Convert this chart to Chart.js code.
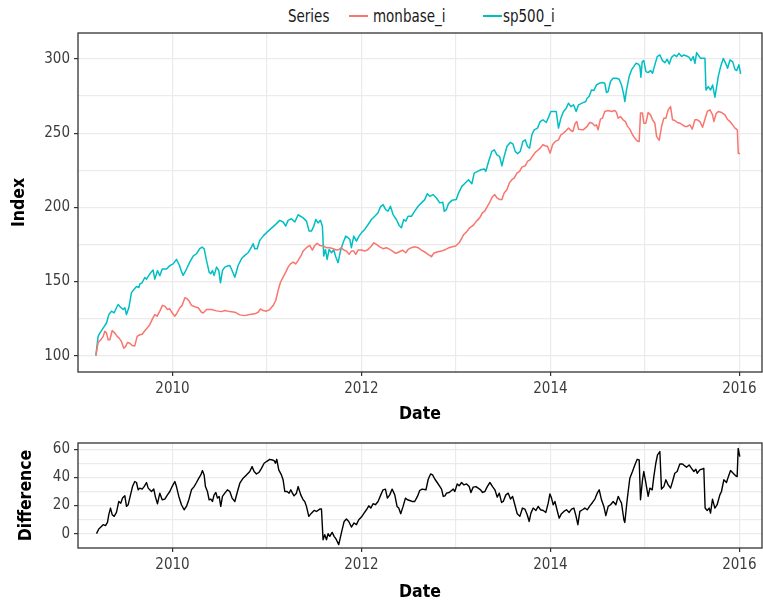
<!DOCTYPE html>
<html>
<head>
<meta charset="utf-8">
<title>monbase_i vs sp500_i</title>
<script src="https://cdn.jsdelivr.net/npm/chart.js@4.4.1/dist/chart.umd.min.js"></script>
<style>
  html, body { margin: 0; padding: 0; background: #fff; }
  #page { position: relative; width: 763px; height: 605px; overflow: hidden; }
  #page canvas { position: absolute; left: 0; }
  #legend { position: absolute; top: 0; left: 0; width: 763px; height: 32px;
            font-family: 'Liberation Sans Narrow', 'DejaVu Sans Condensed', sans-serif;
            font-size: 17px; color: #1a1a1a; }
  #legend span { position: absolute; top: 5px; line-height: 22px; white-space: nowrap;
                 transform: scaleX(0.88); transform-origin: left center; }
  #legend .key { top: 15px; height: 2px; width: 19px; transform: none; }
</style>
</head>
<body>
<div id="page">
  <div id="legend"></div>
  <canvas id="indexChart" width="763" height="430" style="top:0"></canvas>
  <canvas id="diffChart" width="763" height="185" style="top:420px"></canvas>
</div>
<script>
// weekly index levels (decimal year, value)
const sp500Dates = [
  2009.189, 2009.213, 2009.231, 2009.266, 2009.302, 2009.326, 2009.354, 2009.383, 2009.407, 2009.425,
  2009.450, 2009.478, 2009.496, 2009.513, 2009.538, 2009.566, 2009.594, 2009.619, 2009.644, 2009.654,
  2009.679, 2009.707, 2009.725, 2009.743, 2009.771, 2009.795, 2009.813, 2009.841, 2009.866, 2009.891,
  2009.937, 2009.972, 2010.007, 2010.042, 2010.071, 2010.095, 2010.113, 2010.141, 2010.183, 2010.219,
  2010.254, 2010.289, 2010.314, 2010.335, 2010.360, 2010.388, 2010.406, 2010.423, 2010.441, 2010.466,
  2010.490, 2010.508, 2010.529, 2010.554, 2010.578, 2010.607, 2010.631, 2010.660, 2010.695, 2010.730,
  2010.765, 2010.801, 2010.836, 2010.854, 2010.871, 2010.896, 2010.924, 2010.966, 2011.002, 2011.048,
  2011.101, 2011.136, 2011.171, 2011.199, 2011.224, 2011.259, 2011.295, 2011.330, 2011.383, 2011.418,
  2011.446, 2011.471, 2011.496, 2011.517, 2011.541, 2011.566, 2011.587, 2011.601, 2011.619, 2011.637,
  2011.658, 2011.683, 2011.707, 2011.728, 2011.753, 2011.778, 2011.806, 2011.834, 2011.859, 2011.877,
  2011.894, 2011.919, 2011.947, 2011.975, 2012.000, 2012.035, 2012.071, 2012.106, 2012.141, 2012.176,
  2012.201, 2012.229, 2012.257, 2012.282, 2012.307, 2012.335, 2012.370, 2012.399, 2012.423, 2012.448,
  2012.469, 2012.494, 2012.529, 2012.564, 2012.600, 2012.635, 2012.670, 2012.698, 2012.723, 2012.758,
  2012.794, 2012.829, 2012.862, 2012.877, 2012.898, 2012.922, 2012.958, 2013.004, 2013.028, 2013.063,
  2013.099, 2013.134, 2013.169, 2013.194, 2013.229, 2013.265, 2013.300, 2013.317, 2013.346, 2013.381,
  2013.406, 2013.434, 2013.462, 2013.487, 2013.511, 2013.540, 2013.575, 2013.603, 2013.628, 2013.653,
  2013.681, 2013.709, 2013.734, 2013.758, 2013.780, 2013.804, 2013.829, 2013.864, 2013.892, 2013.921,
  2013.956, 2013.981, 2014.005, 2014.034, 2014.062, 2014.086, 2014.111, 2014.139, 2014.168, 2014.192,
  2014.217, 2014.245, 2014.273, 2014.298, 2014.346, 2014.375, 2014.389, 2014.410, 2014.435, 2014.459,
  2014.488, 2014.516, 2014.551, 2014.576, 2014.594, 2014.611, 2014.636, 2014.664, 2014.700, 2014.728,
  2014.753, 2014.777, 2014.788, 2014.806, 2014.834, 2014.859, 2014.883, 2014.905, 2014.929, 2014.947,
  2014.958, 2014.972, 2014.989, 2015.011, 2015.035, 2015.060, 2015.081, 2015.106, 2015.131, 2015.159,
  2015.187, 2015.212, 2015.237, 2015.258, 2015.283, 2015.311, 2015.336, 2015.360, 2015.389, 2015.413,
  2015.442, 2015.470, 2015.488, 2015.512, 2015.530, 2015.548, 2015.565, 2015.590, 2015.611, 2015.636,
  2015.647, 2015.671, 2015.696, 2015.717, 2015.742, 2015.760, 2015.777, 2015.802, 2015.830, 2015.855,
  2015.876, 2015.901, 2015.929, 2015.954, 2015.972, 2015.996, 2016.014
];
const sp500Values = [
  100, 113, 115.2, 118.6, 122, 127.7, 130, 128.9, 132.3, 134.5,
  132.7, 131.1, 132.3, 127.7, 132.3, 142.5, 144.8, 146.6, 145.9, 148.2,
  149.3, 152.7, 151.6, 153.4, 156.1, 157.7, 151.6, 157.3, 153.9, 158.4,
  158.4, 160.7, 161.9, 164.9, 161.3, 156.8, 154.1, 157.4, 163.1, 167.1,
  168.7, 172.1, 173.2, 172.1, 164.2, 156.3, 155.2, 157.4, 154.1, 159.7,
  157.4, 149.1, 157.4, 159.7, 160.4, 160.8, 157.4, 152.9, 160.8, 165.3,
  167.6, 169.4, 173.2, 175.5, 172.1, 172.1, 177.7, 181.1, 183.3, 186,
  189, 191.2, 190.1, 187.4, 191.2, 192.3, 190.1, 195, 192.9, 190.7,
  184, 184, 187.3, 191.8, 189.5, 191.3, 187.3, 167.2, 171.6, 164.9,
  171.6, 169.4, 171.2, 166.7, 162.7, 170.5, 176.1, 180.6, 179.5, 178.4,
  172.8, 180.6, 177.2, 180.6, 182.8, 185.1, 188.4, 191.8, 194, 196.3,
  200.3, 201.8, 198.5, 197.4, 200.7, 195.1, 191.8, 187.8, 186.2, 191.8,
  190.7, 194, 194, 197.4, 200.7, 203, 205.2, 209.2, 207.4, 208.6,
  206.3, 203, 203.4, 197.3, 198.4, 202.5, 204.7, 205.2, 209.6, 214.1,
  216.4, 218.6, 215.9, 223.1, 224.2, 225.3, 225.8, 224.2, 230.9, 237.7,
  238.8, 235.4, 234.3, 228, 234.3, 241, 243.7, 242.8, 237.7, 236.1,
  237.7, 244.4, 245.5, 241, 239.9, 248.9, 252.2, 253.4, 257.8, 259,
  257.2, 260.8, 264.6, 264.6, 264.6, 253.4, 260.1, 264.6, 266.8, 270.2,
  267.9, 269.1, 264.6, 269.1, 270.6, 271.3, 273.5, 274.7, 279.1, 278.7,
  282.5, 283.6, 284.1, 283.6, 277.4, 278, 284.8, 287, 287, 286.3,
  282.5, 275.8, 271.3, 279.1, 288.1, 292.6, 294.8, 297.1, 296.6, 295.3,
  287.7, 298.2, 298.9, 291.5, 290.8, 292.2, 290.4, 296, 301.6, 302.7,
  298.9, 297.5, 299.8, 296.6, 301.1, 302.7, 301.6, 303.8, 301.6, 302.7,
  302, 301.1, 298.9, 301.6, 297.1, 304.3, 302.7, 300.4, 300.4, 300.4,
  279.1, 281.4, 279.1, 282.5, 274.2, 281.4, 288.1, 294.8, 300.4, 297.1,
  293.7, 299.3, 298.2, 293, 292.2, 296, 289.9
];

const monbaseDates = [
  2009.189, 2009.213, 2009.242, 2009.266, 2009.284, 2009.302, 2009.319, 2009.337, 2009.362, 2009.390,
  2009.414, 2009.436, 2009.460, 2009.485, 2009.503, 2009.524, 2009.549, 2009.573, 2009.601, 2009.626,
  2009.654, 2009.679, 2009.707, 2009.732, 2009.760, 2009.788, 2009.813, 2009.838, 2009.866, 2009.894,
  2009.919, 2009.947, 2009.972, 2009.996, 2010.025, 2010.049, 2010.078, 2010.102, 2010.131, 2010.155,
  2010.176, 2010.201, 2010.236, 2010.272, 2010.307, 2010.325, 2010.360, 2010.413, 2010.466, 2010.519,
  2010.554, 2010.607, 2010.660, 2010.713, 2010.765, 2010.818, 2010.871, 2010.907, 2010.931, 2010.959,
  2010.995, 2011.030, 2011.065, 2011.093, 2011.118, 2011.143, 2011.171, 2011.199, 2011.224, 2011.249,
  2011.277, 2011.305, 2011.330, 2011.365, 2011.383, 2011.418, 2011.453, 2011.481, 2011.506, 2011.531,
  2011.559, 2011.594, 2011.630, 2011.665, 2011.700, 2011.735, 2011.764, 2011.788, 2011.813, 2011.841,
  2011.869, 2011.894, 2011.919, 2011.940, 2011.965, 2012.000, 2012.035, 2012.071, 2012.106, 2012.131,
  2012.159, 2012.194, 2012.229, 2012.265, 2012.300, 2012.328, 2012.363, 2012.399, 2012.434, 2012.469,
  2012.494, 2012.529, 2012.564, 2012.600, 2012.635, 2012.670, 2012.705, 2012.741, 2012.765, 2012.801,
  2012.847, 2012.892, 2012.928, 2012.963, 2012.998, 2013.034, 2013.058, 2013.083, 2013.111, 2013.146,
  2013.182, 2013.217, 2013.252, 2013.280, 2013.305, 2013.330, 2013.358, 2013.386, 2013.411, 2013.436,
  2013.464, 2013.487, 2013.511, 2013.540, 2013.568, 2013.593, 2013.617, 2013.646, 2013.674, 2013.698,
  2013.734, 2013.758, 2013.787, 2013.815, 2013.840, 2013.864, 2013.892, 2013.921, 2013.945, 2013.970,
  2013.998, 2014.023, 2014.051, 2014.086, 2014.111, 2014.139, 2014.168, 2014.192, 2014.217, 2014.238,
  2014.263, 2014.280, 2014.298, 2014.346, 2014.382, 2014.417, 2014.445, 2014.470, 2014.488, 2014.505,
  2014.530, 2014.551, 2014.576, 2014.611, 2014.647, 2014.682, 2014.700, 2014.717, 2014.742, 2014.770,
  2014.795, 2014.813, 2014.841, 2014.869, 2014.894, 2014.912, 2014.929, 2014.940, 2014.954, 2014.975,
  2014.989, 2015.011, 2015.035, 2015.060, 2015.081, 2015.106, 2015.124, 2015.152, 2015.177, 2015.201,
  2015.223, 2015.247, 2015.272, 2015.293, 2015.318, 2015.343, 2015.371, 2015.399, 2015.424, 2015.449,
  2015.477, 2015.502, 2015.530, 2015.555, 2015.583, 2015.611, 2015.636, 2015.661, 2015.689, 2015.717,
  2015.731, 2015.753, 2015.777, 2015.813, 2015.848, 2015.873, 2015.901, 2015.929, 2015.954, 2015.979,
  2015.989, 2016.007
];
const monbaseValues = [
  100, 108.9, 110.7, 113, 116.4, 115.2, 110.7, 110.7, 117, 115.2,
  113, 111.8, 109.5, 105, 106.1, 108.9, 108.4, 106.8, 106.6, 113,
  114.1, 114.5, 116.8, 118.6, 120.9, 124.8, 127.7, 126.6, 130, 133.9,
  133.4, 131.1, 131.6, 128.9, 126.6, 128.9, 132.3, 133.9, 139.1, 138.4,
  136.8, 133.9, 133, 132.3, 129.3, 128.8, 131.1, 131.1, 130.2, 129.7,
  130.4, 129.7, 129.3, 127.5, 127, 127.7, 128.2, 129.3, 131.5, 130.4,
  130, 131.1, 133.8, 137.2, 143.9, 149.5, 152.9, 156.3, 159.7, 161.9,
  163.1, 161.9, 164.2, 168, 170.5, 172.8, 174.3, 171.2, 174.3, 175.7,
  174.3, 173.9, 172.8, 172.8, 172.1, 171.2, 171.6, 172.8, 171.2, 170.5,
  168.3, 170.5, 170.5, 168.3, 171.2, 171.2, 170.5, 171.6, 173.9, 176.1,
  175, 173.4, 172.1, 172.8, 171.6, 170.5, 169, 169.9, 171.2, 169.4,
  171.6, 172.8, 173.4, 172.8, 171.2, 169.9, 168.3, 166.7, 169, 169.9,
  170.5, 171.6, 172.8, 173.4, 173.9, 176.1, 178.8, 181.7, 183.3, 186.2,
  187.8, 190.7, 192.9, 196.3, 197.4, 200.3, 203.4, 207, 208.6, 206.3,
  205.2, 205.2, 209.6, 211.9, 216.8, 218.6, 219.7, 223.1, 224.2, 227.1,
  228, 230.9, 232.1, 234.8, 237, 238.3, 239.9, 242.2, 241.5, 241,
  236.5, 242.2, 244.4, 245.5, 248.9, 250, 251.8, 253.4, 251.8, 251.1,
  256.7, 257.8, 252.7, 252.2, 254, 257.2, 256.7, 254.9, 255.6, 252.2,
  259.4, 260.1, 264.6, 265.2, 264.6, 265.2, 263.9, 260.1, 261.2, 259,
  257.8, 254.9, 252.7, 248.9, 246.6, 245.1, 244.4, 244.4, 263.5, 263.5,
  256.7, 256.7, 263.9, 262.3, 259, 256.7, 247.8, 245.1, 254.5, 260.1,
  260.1, 265.7, 267.9, 259, 258.5, 257.2, 256.7, 255.6, 254.5, 254.5,
  255.6, 252.7, 259, 259, 257.8, 254, 259.4, 264.6, 265.7, 262.3,
  257.8, 263, 264.6, 263.9, 262.3, 259.4, 257.8, 255.6, 253.4, 252.2,
  236.5, 236.1
];

// sp500_i minus monbase_i
const diffDates = [
  2009.196, 2009.220, 2009.242, 2009.266, 2009.291, 2009.312, 2009.326, 2009.344, 2009.362, 2009.383,
  2009.407, 2009.432, 2009.453, 2009.471, 2009.496, 2009.513, 2009.531, 2009.556, 2009.577, 2009.601,
  2009.619, 2009.637, 2009.654, 2009.679, 2009.700, 2009.725, 2009.743, 2009.760, 2009.778, 2009.802,
  2009.820, 2009.841, 2009.866, 2009.891, 2009.919, 2009.947, 2009.972, 2009.996, 2010.025, 2010.042,
  2010.067, 2010.095, 2010.123, 2010.148, 2010.173, 2010.201, 2010.229, 2010.254, 2010.279, 2010.300,
  2010.317, 2010.335, 2010.349, 2010.370, 2010.388, 2010.406, 2010.423, 2010.441, 2010.459, 2010.476,
  2010.494, 2010.511, 2010.529, 2010.554, 2010.582, 2010.607, 2010.631, 2010.660, 2010.688, 2010.713,
  2010.748, 2010.783, 2010.818, 2010.843, 2010.864, 2010.889, 2010.914, 2010.942, 2010.970, 2010.995,
  2011.030, 2011.058, 2011.076, 2011.090, 2011.104, 2011.125, 2011.153, 2011.171, 2011.189, 2011.213,
  2011.235, 2011.252, 2011.270, 2011.287, 2011.312, 2011.330, 2011.358, 2011.383, 2011.400, 2011.418,
  2011.443, 2011.471, 2011.499, 2011.524, 2011.559, 2011.577, 2011.594, 2011.612, 2011.630, 2011.647,
  2011.665, 2011.690, 2011.711, 2011.735, 2011.760, 2011.788, 2011.817, 2011.841, 2011.866, 2011.894,
  2011.922, 2011.947, 2011.972, 2012.000, 2012.028, 2012.053, 2012.078, 2012.099, 2012.123, 2012.148,
  2012.176, 2012.205, 2012.229, 2012.254, 2012.275, 2012.300, 2012.325, 2012.353, 2012.377, 2012.395,
  2012.416, 2012.441, 2012.466, 2012.487, 2012.511, 2012.536, 2012.564, 2012.593, 2012.617, 2012.642,
  2012.683, 2012.707, 2012.732, 2012.753, 2012.778, 2012.802, 2012.831, 2012.848, 2012.866, 2012.884,
  2012.901, 2012.929, 2012.954, 2012.972, 2012.989, 2013.014, 2013.035, 2013.060, 2013.085, 2013.113,
  2013.141, 2013.159, 2013.183, 2013.212, 2013.236, 2013.261, 2013.282, 2013.307, 2013.332, 2013.360,
  2013.388, 2013.413, 2013.437, 2013.459, 2013.483, 2013.501, 2013.529, 2013.554, 2013.578, 2013.600,
  2013.624, 2013.649, 2013.677, 2013.705, 2013.730, 2013.755, 2013.776, 2013.794, 2013.818, 2013.847,
  2013.871, 2013.896, 2013.924, 2013.952, 2013.977, 2013.995, 2014.012, 2014.030, 2014.048, 2014.072,
  2014.093, 2014.118, 2014.143, 2014.171, 2014.199, 2014.224, 2014.249, 2014.270, 2014.291, 2014.312,
  2014.340, 2014.365, 2014.390, 2014.418, 2014.446, 2014.471, 2014.496, 2014.517, 2014.541, 2014.566,
  2014.587, 2014.612, 2014.637, 2014.665, 2014.693, 2014.718, 2014.735, 2014.753, 2014.778, 2014.788,
  2014.813, 2014.841, 2014.869, 2014.894, 2014.919, 2014.940, 2014.954, 2014.975, 2014.989, 2015.011,
  2015.035, 2015.053, 2015.078, 2015.095, 2015.116, 2015.134, 2015.159, 2015.176, 2015.201, 2015.222,
  2015.247, 2015.272, 2015.293, 2015.317, 2015.342, 2015.370, 2015.399, 2015.423, 2015.441, 2015.469,
  2015.494, 2015.519, 2015.540, 2015.554, 2015.582, 2015.600, 2015.624, 2015.638, 2015.660, 2015.681,
  2015.695, 2015.716, 2015.741, 2015.765, 2015.794, 2015.811, 2015.836, 2015.864, 2015.882, 2015.907,
  2015.935, 2015.963, 2015.977, 2015.988, 2016.005
];
const diffValues = [
  0, 3.3, 4.7, 6.4, 5.7, 8, 13.5, 18.2, 13.5, 12.3,
  15.1, 22.9, 21.7, 25.3, 26.9, 19.4, 20.6, 27.6, 33.5, 37.1,
  36.4, 31.2, 32.4, 31.7, 33.5, 36.4, 32.4, 31.2, 30, 31.7,
  26, 21.3, 28.8, 24.1, 24.6, 27.6, 30, 33.5, 37.1, 33.5,
  26.5, 20.6, 17, 19.4, 24.1, 31.2, 33.5, 36.4, 39.5, 41.8,
  44.9, 41.8, 33.5, 30, 24.1, 24.6, 22.9, 27.6, 29.3, 25.3,
  26.5, 19.4, 26.5, 28.8, 31.2, 30, 25.3, 22.9, 30, 35.9,
  39.5, 41.8, 44.2, 47.7, 44.2, 42.5, 43.5, 46.5, 50.1, 51.3,
  52.9, 52.4, 52, 50.1, 52.9, 45.4, 41.8, 38.3, 30, 30,
  28.8, 31.2, 28.8, 26.9, 28.8, 33.5, 27.6, 24.1, 22.9, 19.4,
  12.3, 14.6, 16.5, 15.8, 17.5, 17.5, -4.3, -0.7, -4.3, 0,
  -1.9, 0.9, -1.9, -4.3, -7.8, 0.5, 8.7, 10.4, 8.7, 4.7,
  7.6, 6.4, 9.9, 11.8, 14.6, 17, 19.8, 18.2, 21.3, 20.6,
  22.9, 27.6, 31.2, 31.7, 25.3, 27.6, 31.7, 27.6, 19.4, 18.2,
  14.2, 19.4, 25.3, 24.1, 23.6, 22.9, 22.9, 26.5, 30.7, 31.7,
  31.2, 38.7, 42.5, 41.8, 38.7, 36.4, 33.5, 31.7, 26.5, 26.9,
  28.8, 29.3, 30.7, 31.7, 30, 35.4, 34, 36.4, 34.7, 35.4,
  33.5, 29.3, 33.1, 33.5, 32.4, 31.2, 29.3, 30, 33.5, 36.4,
  33.5, 31.2, 26, 28.8, 22.2, 22.9, 27.6, 28.8, 24.6, 26.5,
  20.6, 14.2, 12.3, 18.2, 17.5, 13.5, 8.7, 14.6, 18.2, 16.5,
  19.4, 17, 16.5, 15.1, 21.7, 28.3, 25.3, 20.6, 22.9, 16.5,
  11.1, 14.2, 15.8, 17, 15.1, 17.5, 18.2, 12.8, 6.4, 15.8,
  17, 18.2, 17, 19.8, 22.2, 24.6, 28.8, 31.2, 24.1, 19.4,
  12.8, 19.4, 20.6, 22.9, 20.6, 26.5, 24.1, 21.7, 9.9, 8,
  24.1, 39.5, 44.2, 48.9, 52.9, 52.4, 24.1, 38.3, 44.2, 35.9,
  26.5, 32.4, 31.2, 40.6, 50.1, 56, 58.4, 31.7, 33.5, 38.3,
  34.7, 32.4, 37.1, 43, 44.2, 49.6, 49.6, 48.2, 47.2, 48.9,
  46.5, 44.2, 45.8, 43, 45.4, 45.8, 46.5, 18.2, 16.5, 18.2,
  14.6, 24.6, 18.2, 20.6, 27.6, 30, 38.3, 36.4, 40.2, 44.9,
  43, 41.1, 40.6, 60.7, 54.8
];

const seriesNames = ['monbase_i', 'sp500_i'];
const seriesColors = ['#F8766D', '#00BFC4'];

const yearGrid = [2010, 2011, 2012, 2013, 2014, 2015, 2016];
const yearLabels = [2010, 2012, 2014, 2016];
const indexGrid = [100, 125, 150, 175, 200, 225, 250, 275, 300];
const indexLabels = [100, 150, 200, 250, 300];
const diffGrid = [0, 10, 20, 30, 40, 50, 60];
const diffLabels = [0, 20, 40, 60];

const FONT = "'Liberation Sans Narrow', 'DejaVu Sans Condensed', sans-serif";
const GRID = '#EBEBEB';
const INK = '#333333';
const TICK_TEXT = '#3C3C3C';

const toPoints = (xs, ys) => xs.map((x, i) => ({ x, y: ys[i] }));

// ggplot-like panel border around the plotting area
const panelBorder = {
  id: 'panelBorder',
  afterDatasetsDraw(chart) {
    const { ctx, chartArea: a } = chart;
    ctx.save();
    ctx.strokeStyle = INK;
    ctx.lineWidth = 1.3;
    ctx.strokeRect(a.left, a.top, a.right - a.left, a.bottom - a.top);
    ctx.restore();
  }
};

function dateAxis(height, titlePad) {
  return {
    type: 'linear',
    min: 2009.0,
    max: 2016.24,
    afterBuildTicks: s => { s.ticks = yearGrid.map(v => ({ value: v })); },
    afterFit: s => { s.height = height; },
    ticks: {
      autoSkip: false, maxRotation: 0, padding: 4,
      color: TICK_TEXT, font: { family: FONT, size: 15 },
      callback: v => yearLabels.includes(v) ? String(v) : ''
    },
    grid: {
      color: GRID, lineWidth: 1.2, tickLength: 4, tickWidth: 1.2,
      tickColor: c => c.tick && yearLabels.includes(c.tick.value) ? INK : 'rgba(0,0,0,0)'
    },
    border: { display: false },
    title: {
      display: true, text: 'Date', color: '#000',
      font: { family: FONT, size: 17.5, weight: 'bold' },
      padding: { top: 0, bottom: titlePad }
    }
  };
}

function valueAxis(min, max, grid, labels, title, titlePad) {
  return {
    type: 'linear',
    min, max,
    afterBuildTicks: s => { s.ticks = grid.map(v => ({ value: v })); },
    afterFit: s => { s.width = 78; },
    ticks: {
      autoSkip: false, padding: 4,
      color: TICK_TEXT, font: { family: FONT, size: 15 },
      callback: v => labels.includes(v) ? String(v) : ''
    },
    grid: {
      color: GRID, lineWidth: 1.2, tickLength: 4, tickWidth: 1.2,
      tickColor: c => c.tick && labels.includes(c.tick.value) ? INK : 'rgba(0,0,0,0)'
    },
    border: { display: false },
    title: {
      display: true, text: title, color: '#000',
      font: { family: FONT, size: 17.5, weight: 'bold' },
      padding: { top: titlePad, bottom: 0 }
    }
  };
}

const baseOptions = {
  responsive: false,
  animation: false,
  devicePixelRatio: 1,
  events: [],
  plugins: { legend: { display: false }, tooltip: { enabled: false } },
  elements: { point: { radius: 0 }, line: { tension: 0, borderJoinStyle: 'round' } }
};

function renderLegend() {
  const el = document.getElementById('legend');
  const parts = [
    { left: 288, text: 'Series' },
    { left: 349, color: seriesColors[0] },
    { left: 373, text: seriesNames[0] },
    { left: 483, color: seriesColors[1] },
    { left: 503, text: seriesNames[1] }
  ];
  el.innerHTML = parts.map(p => p.text
    ? `<span style="left:${p.left}px">${p.text}</span>`
    : `<span class="key" style="left:${p.left}px;background:${p.color}"></span>`
  ).join('');
}

function renderIndexChart() {
  new Chart(document.getElementById('indexChart'), {
    type: 'line',
    data: {
      datasets: [
        { label: seriesNames[0], data: toPoints(monbaseDates, monbaseValues), borderColor: seriesColors[0], borderWidth: 1.5 },
        { label: seriesNames[1], data: toPoints(sp500Dates, sp500Values), borderColor: seriesColors[1], borderWidth: 1.5 }
      ]
    },
    options: {
      ...baseOptions,
      layout: { padding: { top: 33, right: 1, left: 0, bottom: 0 } },
      scales: {
        x: dateAxis(58, 5),
        y: valueAxis(89, 317.5, indexGrid, indexLabels, 'Index', 8.5)
      }
    },
    plugins: [panelBorder]
  });
}

function renderDiffChart() {
  new Chart(document.getElementById('diffChart'), {
    type: 'line',
    data: {
      datasets: [
        { label: 'Difference', data: toPoints(diffDates, diffValues), borderColor: '#000', borderWidth: 1.4 }
      ]
    },
    options: {
      ...baseOptions,
      layout: { padding: { top: 23, right: 1, left: 0, bottom: 0 } },
      scales: {
        x: dateAxis(57, 2),
        y: valueAxis(-10.2, 64.5, diffGrid, diffLabels, 'Difference', 16)
      }
    },
    plugins: [panelBorder]
  });
}

renderLegend();
renderIndexChart();
renderDiffChart();
</script>
</body>
</html>
